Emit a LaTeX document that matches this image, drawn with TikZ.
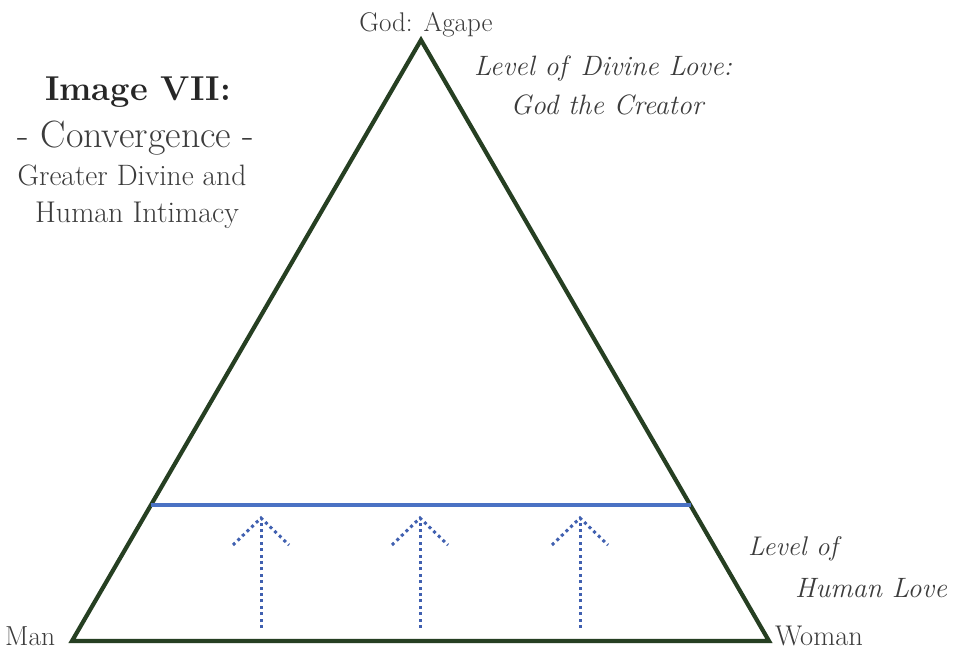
\documentclass[tikz,border=0pt]{standalone}
\usepackage{xcolor}
\definecolor{tri}{HTML}{263F22}
\definecolor{lvl}{HTML}{4A72C4}
\definecolor{dots}{HTML}{4060B0}
\definecolor{txt}{HTML}{3C3C3C}
\begin{document}
\begin{tikzpicture}[x=1pt,y=-1pt,
  side/.style={draw=tri,line width=4.2pt,line join=miter},
  level/.style={draw=lvl,line width=3.6pt},
  uparrow/.style={draw=dots,line width=3pt,dash pattern=on 3pt off 3.4pt},
  lab/.style={text=txt,inner sep=0pt,anchor=base},
  labit/.style={lab,font=\fontsize{28}{30}\selectfont\itshape}]
\useasboundingbox (0,0) rectangle (956,653);
\fill[white] (0,0) rectangle (956,653);
% triangle
\coordinate (apex) at (421,40);
\coordinate (man) at (72,641);
\coordinate (woman) at (769,641);
\draw[side] (man) -- (apex) -- (woman) -- cycle;
% level line
\coordinate (ll) at (150.5,505);
\coordinate (lr) at (691,505);
\draw[level] (ll) -- (lr);
% arrows
\foreach \i/\x in {a/261,b/420,c/580}{
  \coordinate (tip\i) at (\x,518);
  \coordinate (base\i) at (\x,628);
  \coordinate (l\i) at (\x-28,545);
  \coordinate (r\i) at (\x+28,545);
  \draw[uparrow] (base\i) -- (tip\i);
  \draw[uparrow] (l\i) -- (tip\i) -- (r\i);
}
% labels
\node[lab,font=\fontsize{27}{29}\selectfont] (god) at (426,31) {God: Agape};
\node[lab,anchor=base west,font=\fontsize{27.5}{29}\selectfont] (manl) at (5,645) {Man};
\node[lab,anchor=base west,font=\fontsize{28.5}{30}\selectfont] (womanl) at (775,645) {Woman};
\node[lab,text=black!85,font=\fontsize{34.5}{37}\selectfont\bfseries] (title) at (138,100) {Image VII:};
\node[lab,font=\fontsize{38}{40}\selectfont] (conv) at (136,147) {- Convergence -};
\node[lab,font=\fontsize{29.5}{31}\selectfont] (gd) at (132,185) {Greater Divine and};
\node[lab,font=\fontsize{30}{31}\selectfont] (hi) at (137,222) {Human Intimacy};
\node[labit,anchor=base west] (ldl) at (474,75) {Level of\hspace{4pt} Divine Love:};
\node[labit] (gtc) at (607,114) {God the Creator};
\node[labit,anchor=base west,font=\fontsize{27}{29}\selectfont\itshape] (lo) at (748,555) {Level of};
\node[labit,anchor=base west] (hl) at (795,597) {Human Love};
\end{tikzpicture}
\end{document}
